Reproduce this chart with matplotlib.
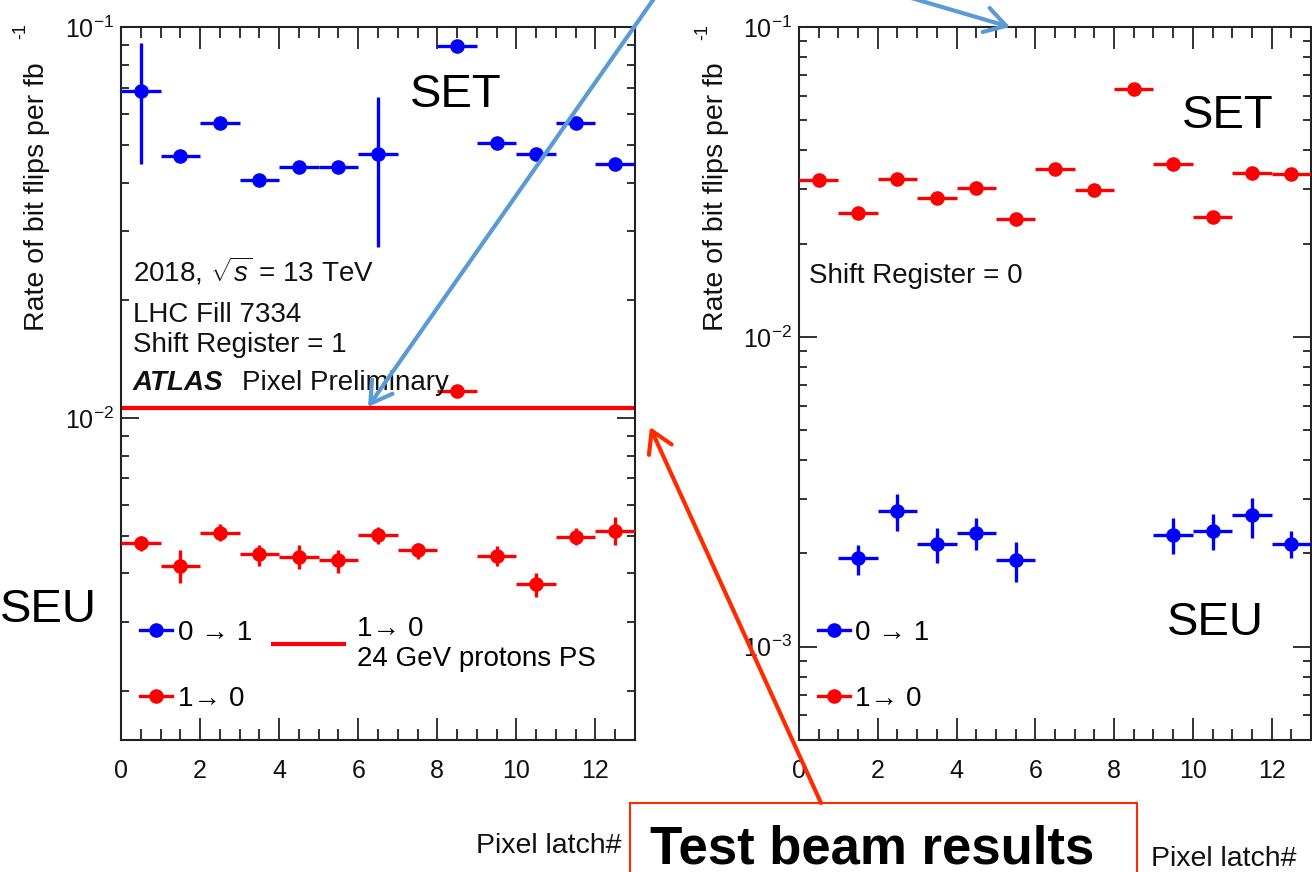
import numpy as np
import matplotlib
matplotlib.use("Agg")
import matplotlib.pyplot as plt
from matplotlib.lines import Line2D
from matplotlib.patches import FancyArrowPatch, Rectangle
from matplotlib.ticker import LogLocator, NullFormatter, MultipleLocator

plt.rcParams['font.family'] = ['Liberation Sans', 'DejaVu Sans']
plt.rcParams['mathtext.fontset'] = 'custom'
plt.rcParams['mathtext.rm'] = 'Liberation Sans'
plt.rcParams['mathtext.it'] = 'Liberation Sans:italic'
plt.rcParams['mathtext.bf'] = 'Liberation Sans:bold'

nan = np.nan
latch = np.arange(13) + 0.5          # pixel latch bin centres
latch_halfwidth = 0.5

# ---- Shift Register = 1 ----
sr1_01_rate = [0.0684, 0.0467, 0.0567, 0.0405, 0.0439, 0.0439, 0.0473, nan,
               0.0892, 0.0504, 0.0473, 0.0567, 0.0445]
sr1_01_err_lo = [0.0238, 0.0010, 0.0012, 0.0009, 0.0009, 0.0009, 0.0199, nan,
                 0.0018, 0.0010, 0.0010, 0.0012, 0.0009]
sr1_01_err_hi = [0.0226, 0.0010, 0.0012, 0.0009, 0.0009, 0.0009, 0.0191, nan,
                 0.0018, 0.0010, 0.0010, 0.0012, 0.0009]

sr1_10_rate = [0.00478, 0.00419, 0.00509, 0.00448, 0.00442, 0.00433, 0.00502,
               0.00458, 0.0117, 0.00444, 0.00377, 0.00497, 0.00515]
sr1_10_err_lo = [0.00022, 0.00040, 0.00025, 0.00031, 0.00032, 0.00031, 0.00025,
                 0.00022, 0.00040, 0.00027, 0.00028, 0.00025, 0.00042]
sr1_10_err_hi = [0.00022, 0.00039, 0.00025, 0.00025, 0.00031, 0.00027, 0.00025,
                 0.00022, 0.00040, 0.00027, 0.00024, 0.00025, 0.00042]

ps_test_beam_rate = 0.0106           # 1 -> 0, 24 GeV protons at the PS

# ---- Shift Register = 0 ----
sr0_10_rate = [0.0320, 0.0251, 0.0324, 0.0281, 0.0303, 0.0240, 0.0349, 0.0297,
               0.0632, 0.0361, 0.0244, 0.0339, 0.0335]
sr0_10_err = [0.0008, 0.0007, 0.0008, 0.0007, 0.0008, 0.0006, 0.0009, 0.0007,
              0.0014, 0.0009, 0.0006, 0.0008, 0.0008]

sr0_01_rate = [nan, 0.00193, 0.00274, 0.00214, 0.00233, 0.00190, nan, nan, nan,
               0.00229, 0.00236, 0.00266, 0.00215]
sr0_01_err_lo = [nan, 0.00023, 0.00037, 0.00028, 0.00028, 0.00028, nan, nan, nan,
                 0.00030, 0.00031, 0.00041, 0.00022]
sr0_01_err_hi = [nan, 0.00020, 0.00036, 0.00028, 0.00028, 0.00027, nan, nan, nan,
                 0.00032, 0.00033, 0.00037, 0.00021]

BLUE = '#0000ff'
RED = '#ff0000'
ARROW_BLUE = '#5b9bd5'
ARROW_RED = '#ff2a00'
MS = 10.5
ELW = 2.4

W, H = 1312, 872
fig = plt.figure(figsize=(W / 100, H / 100), dpi=100)


def px_box(x0, x1, ytop, ybot):
    return [x0 / W, 1 - ybot / H, (x1 - x0) / W, (ybot - ytop) / H]


def style_axes(ax, ylo, yhi):
    ax.set_yscale('log')
    ax.set_xlim(0, 13)
    ax.set_ylim(ylo, yhi)
    ax.xaxis.set_major_locator(MultipleLocator(2))
    ax.xaxis.set_minor_locator(MultipleLocator(0.5))
    ax.yaxis.set_major_locator(LogLocator(base=10, numticks=10))
    ax.yaxis.set_minor_locator(LogLocator(base=10, subs=np.arange(2, 10), numticks=40))
    ax.yaxis.set_minor_formatter(NullFormatter())
    ax.tick_params(axis='both', which='both', direction='in', top=True, right=True,
                   color='#222222', labelcolor='#111111')
    ax.tick_params(axis='x', which='major', length=15.8, width=1.3, labelsize=18, pad=14)
    ax.tick_params(axis='x', which='minor', length=8, width=1.3)
    ax.tick_params(axis='y', which='major', length=13, width=1.3, labelsize=18, pad=5)
    ax.tick_params(axis='y', which='minor', length=6, width=1.3)
    for s in ax.spines.values():
        s.set_linewidth(1.5)
        s.set_color('#222222')


def draw_points(ax, rate, lo, hi, color):
    ax.errorbar(latch, rate, xerr=latch_halfwidth, yerr=[lo, hi], fmt='o',
                color=color, ms=MS, mew=0, elinewidth=ELW, capsize=0, zorder=3)


def y_title(x_center, x_sup, y_sup):
    fig.text(x_center / W, 1 - 62 / H, 'Rate of bit flips per fb', rotation=90,
             ha='center', va='top', fontsize=20.5, color='#111111')
    fig.text(x_sup / W, 1 - y_sup / H, '-1', rotation=90, ha='center', va='center',
             fontsize=13, color='#111111')


def legend_markers(ax):
    handles = [Line2D([], [], color=BLUE, marker='o', ms=MS, mew=0, lw=ELW),
               Line2D([], [], color=RED, marker='o', ms=MS, mew=0, lw=ELW)]
    leg = ax.legend(handles, ['0 \u2192 1', '1\u2192 0'], loc='upper left',
                    bbox_to_anchor=(0.037, 0.168), frameon=False, fontsize=20,
                    handlelength=1.15, handletextpad=0.2, labelspacing=1.43,
                    borderpad=0, borderaxespad=0)
    return leg


# ---------------- left panel: Shift Register = 1 ----------------
axL = fig.add_axes(px_box(121, 635, 27, 740))
style_axes(axL, 0.0015, 0.1)
axL.axhline(ps_test_beam_rate, color=RED, lw=3, zorder=2)
draw_points(axL, sr1_01_rate, sr1_01_err_lo, sr1_01_err_hi, BLUE)
draw_points(axL, sr1_10_rate, sr1_10_err_lo, sr1_10_err_hi, RED)

leg1 = legend_markers(axL)
axL.add_artist(leg1)
axL.legend([Line2D([], [], color=RED, lw=3)], ['1\u2192 0\n24 GeV protons PS'],
           loc='upper left', bbox_to_anchor=(0.2957, 0.174), frameon=False,
           fontsize=20, handlelength=2.55, handletextpad=0.48, borderpad=0,
           borderaxespad=0)

txt_kw = dict(transform=axL.transAxes, fontsize=20, color='#111111', ha='left',
              va='baseline')
axL.text(0.0233, 0.6424, r'2018, $\sqrt{s}$ = 13 TeV', **txt_kw)
axL.text(0.0233, 0.5863, 'LHC Fill 7334', **txt_kw)
axL.text(0.0233, 0.5442, 'Shift Register = 1', **txt_kw)
axL.text(0.0233, 0.4909, 'ATLAS', fontweight='bold', fontstyle='italic', **txt_kw)
axL.text(0.2354, 0.4909, 'Pixel Preliminary', **txt_kw)

# ---------------- right panel: Shift Register = 0 ----------------
axR = fig.add_axes(px_box(799, 1311, 27, 740))
style_axes(axR, 5e-4, 0.1)
draw_points(axR, sr0_10_rate, sr0_10_err, sr0_10_err, RED)
draw_points(axR, sr0_01_rate, sr0_01_err_lo, sr0_01_err_hi, BLUE)
legend_markers(axR)
axR.text(0.0195, 0.641, 'Shift Register = 0', transform=axR.transAxes, fontsize=20,
         color='#111111', ha='left', va='baseline')

# axis titles
y_title(37, 21, 31)
y_title(716, 703, 32)
fig.text(476 / W, 1 - 853 / H, 'Pixel latch#', fontsize=20.5, color='#111111',
         ha='left', va='baseline')
fig.text(1151 / W, 1 - 866 / H, 'Pixel latch#', fontsize=20.5, color='#111111',
         ha='left', va='baseline')

# region labels
big = dict(fontsize=34, color='black', ha='left', va='baseline')
fig.text(410 / W, 1 - 107 / H, 'SET', **big)
fig.text(0 / W, 1 - 622 / H, 'SEU', **big)
fig.text(1182 / W, 1 - 128 / H, 'SET', **big)
fig.text(1167 / W, 1 - 635 / H, 'SEU', **big)

# call-out box
box = Rectangle((630 / W, -0.05), (1137 - 630) / W, 0.05 + 1 - 803 / H,
                transform=fig.transFigure, facecolor='white', edgecolor=ARROW_RED,
                lw=1.5, zorder=5)
fig.add_artist(box)
fig.text(650 / W, 1 - 863 / H, 'Test beam results', fontsize=38, fontweight='bold',
         color='black', ha='left', va='baseline', zorder=6)


def fig_arrow(p0, p1, color):
    a = FancyArrowPatch((p0[0] / W, 1 - p0[1] / H), (p1[0] / W, 1 - p1[1] / H),
                        transform=fig.transFigure, arrowstyle='->,head_length=0.5,head_width=0.3',
                        mutation_scale=30, color=color, lw=3, zorder=7,
                        shrinkA=0, shrinkB=0)
    fig.add_artist(a)


fig_arrow((667, -20), (368, 407), ARROW_BLUE)
fig_arrow((850, -20), (1010, 27), ARROW_BLUE)
fig_arrow((821, 803), (650, 427), ARROW_RED)

fig.savefig('out.png', dpi=100)
